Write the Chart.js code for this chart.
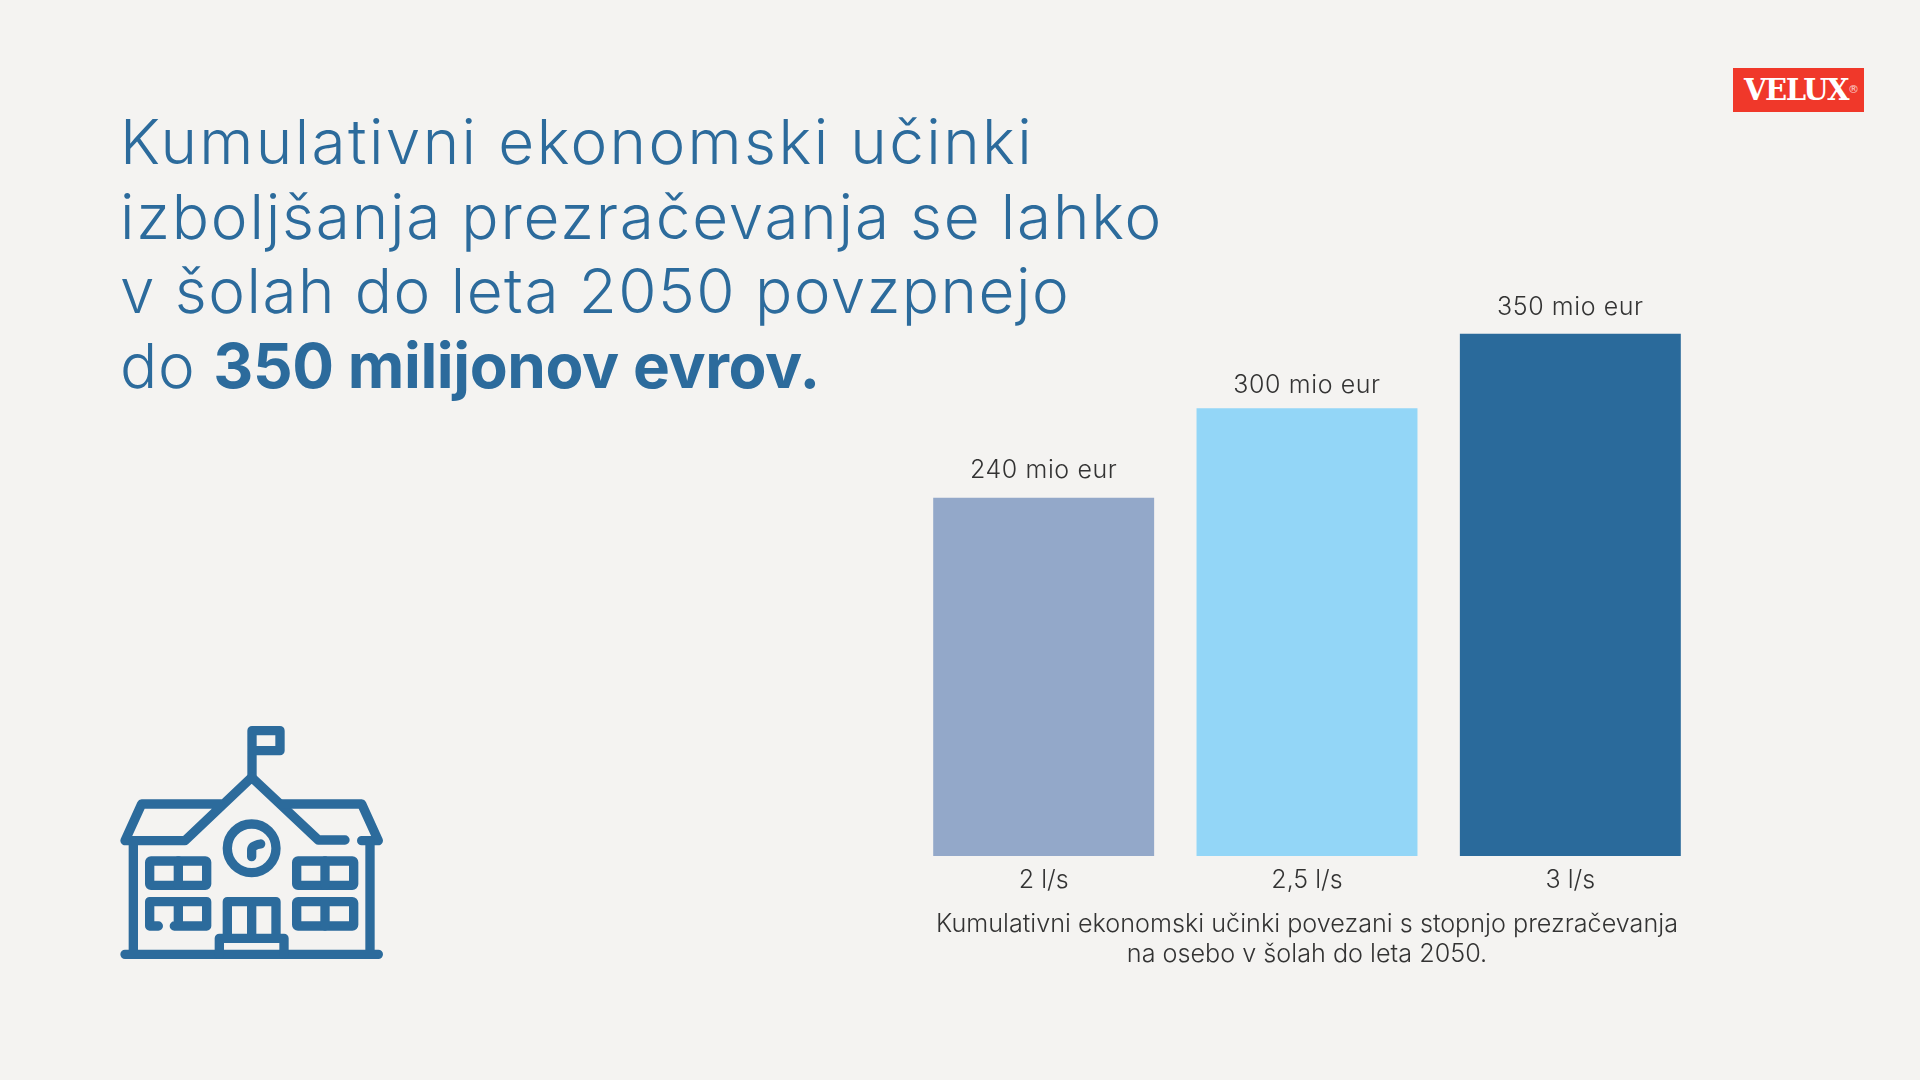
<!DOCTYPE html>
<html lang="sl"><head><meta charset="utf-8">
<script src="https://cdn.jsdelivr.net/npm/chart.js@4"></script>
<style>
html,body{margin:0;padding:0;width:1920px;height:1080px;background:#F4F3F1;overflow:hidden}
#c{position:absolute;left:0;top:0}
#title{position:absolute;left:120px;top:105px;font:300 62px/74.6px Inter,sans-serif;color:#2C6B9C;white-space:nowrap}
#title b{font-weight:700;letter-spacing:-0.4px}
.l1{letter-spacing:2.4px}.l2{letter-spacing:1.8px}.l3{letter-spacing:1.46px}.l4{letter-spacing:.6px}
#logo{position:absolute;left:1733px;top:68px;width:131px;height:44px;background:#F0382A;color:#fff;font:700 29px/45px "DejaVu Serif",serif;letter-spacing:-1.4px;text-indent:11px;overflow:hidden}
#logo span{font:400 11px/11px "DejaVu Sans",sans-serif;position:absolute;left:115px;top:16px;text-indent:0;letter-spacing:0;opacity:.75}
#icon{position:absolute;left:90px;top:700px;width:320px;height:280px}
</style></head><body>
<canvas id="c" width="1920" height="1080" style="width:1920px;height:1080px"></canvas>
<div id="title"><span class="l1">Kumulativni ekonomski učinki</span><br><span class="l2">izboljšanja prezračevanja se lahko</span><br><span class="l3">v šolah do leta 2050 povzpnejo</span><br><span class="l4">do <b>350 milijonov evrov.</b></span></div>
<div id="logo">VELUX<span>®</span></div>
<svg id="icon" viewBox="0 0 960 840" fill="none" stroke="#2C6B9C" stroke-width="28" stroke-linecap="round" stroke-linejoin="round">
<path d="M486 230V92H570V152H486"/>
<path d="M400 312H155L105 422H285L485 232L685 420H765"/>
<path d="M575 312H815L865 422H815"/>
<path d="M130 425V760M840 425V760M105 763H865"/>
<circle cx="485" cy="445" r="73"/>
<path d="M485 470V450Q485 436 512 432"/>
<rect x="179" y="483" width="171" height="73" rx="4"/><path d="M265 483V556"/>
<rect x="620" y="483" width="171" height="73" rx="4"/><path d="M705 483V556"/>
<rect x="620" y="605" width="171" height="73" rx="4"/><path d="M705 605V678"/>
<path d="M205 678H179V605H350V678H253M265 605V678"/>
<path d="M412 710V605H558V710M485 605V710"/>
<path d="M388 763V715H582V763"/>
</svg>
<script>
const categories = ["2 l/s", "2,5 l/s", "3 l/s"];
const values = [240, 300, 350];
const barColors = ["#93A8C9", "#93D6F7", "#2A6A9B"];
const valueUnit = "mio eur";
const captionLines = ["Kumulativni ekonomski učinki povezani s stopnjo prezračevanja", "na osebo v šolah do leta 2050."];
const labelGaps = [27, 23, 26];
const textFont = "Inter, sans-serif";
const textColor = "#333333";

const valueLabels = {
  id: "valueLabels",
  afterDatasetsDraw(chart) {
    const { ctx } = chart;
    ctx.save();
    ctx.font = "300 25px " + textFont;
    ctx.letterSpacing = "0.6px";
    ctx.fillStyle = textColor;
    ctx.textAlign = "center";
    ctx.textBaseline = "middle";
    chart.getDatasetMeta(0).data.forEach((bar, i) => {
      ctx.fillText(values[i] + " " + valueUnit, bar.x, bar.y - labelGaps[i]);
    });
    ctx.restore();
  }
};

new Chart(document.getElementById("c"), {
  type: "bar",
  data: { labels: categories, datasets: [{ data: values, backgroundColor: barColors, borderWidth: 0, barPercentage: 0.839, categoryPercentage: 1 }] },
  options: {
    responsive: false, animation: false,
    layout: { padding: { left: 912, right: 218, top: 259, bottom: 110 } },
    plugins: { legend: { display: false }, tooltip: { enabled: false } },
    scales: {
      x: {
        grid: { display: false }, border: { display: false },
        ticks: { color: textColor, font: { family: textFont, size: 25, weight: 300 }, padding: 1, maxRotation: 0 },
        title: { display: true, text: captionLines, color: textColor, font: { family: textFont, size: 25.2, weight: 300, lineHeight: 1.2 }, padding: 0 },
        afterFit(s) { s.height = 114; }
      },
      y: { display: false, min: 0, max: 400 }
    }
  },
  plugins: [valueLabels]
});
</script>
</body></html>
